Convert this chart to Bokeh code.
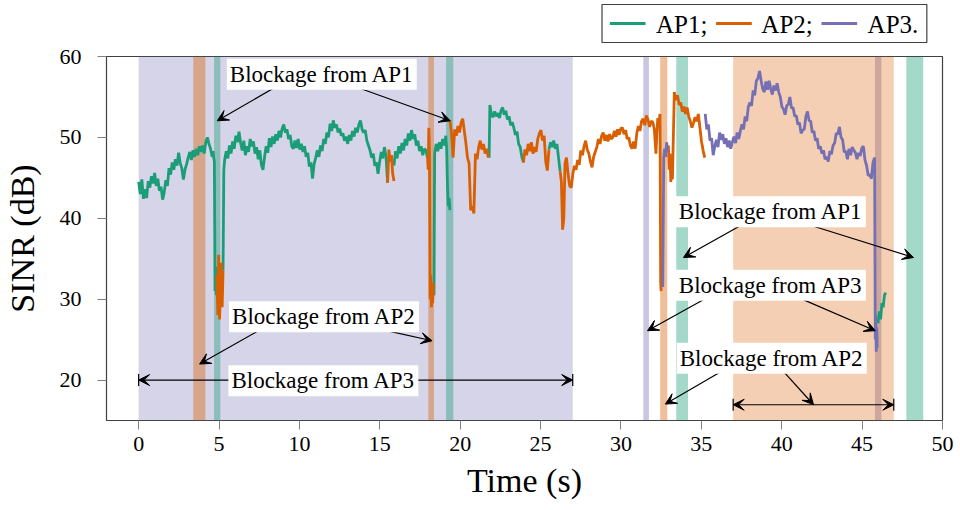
import numpy as np
from bokeh.plotting import figure
from bokeh.layouts import column
from bokeh.models import (BoxAnnotation, Label, Arrow, VeeHead, Range1d, FixedTicker)
from bokeh.core.properties import value
from bokeh.embed import file_html
from bokeh.resources import INLINE

FONT = "Liberation Serif"
C_AP1, C_AP2, C_AP3 = "#1b9e77", "#d95f02", "#7570b3"

# ---------------- data ----------------
# blockage intervals (s) for every access point
block_ap1 = [(4.69, 5.08), (19.12, 19.57), (33.44, 34.17), (47.75, 48.80)]
block_ap2 = [(3.40, 4.15), (18.02, 18.37), (32.44, 32.88), (36.98, 46.97)]
block_ap3 = [(0.00, 27.00), (31.39, 31.74), (45.80, 46.20)]

# SINR (dB) while each AP serves: runs of pieces (t_start, sample step, values)
ap1_runs = [
    [(0.0, 0.0994, [44.5, 43.0, 44.8, 42.4, 43.6, 42.5, 44.6, 43.8, 45.2, 44.3,
                    45.6, 44.0, 44.9, 43.4, 43.9, 42.3, 43.2, 44.7, 44.0, 46.2,
                    45.4, 46.9, 46.0, 47.3, 46.5, 48.1, 46.8, 46.2, 44.8, 46.0,
                    46.7, 47.5, 48.2, 47.2, 48.4, 47.6, 48.6, 47.8, 48.9, 48.2,
                    49.0, 48.0, 49.4, 50.0, 49.2, 48.6, 47.6]),
     (4.63, 0.04, [48.3, 47.5, 47.0, 31.0, 34.0, 30.5, 33.0])],
    [(5.248, 0.05, [33.5, 46.0]),
     (5.348, 0.0994, [47.2, 48.3, 47.4, 49.0, 48.0, 49.5, 48.6, 50.2, 49.4, 50.7,
                      49.3, 48.4, 49.6, 47.8, 48.9, 48.2, 49.8, 48.9, 49.5, 48.0,
                      48.8, 47.3, 48.4, 46.6, 46.0, 47.6, 48.9, 48.1, 49.9, 48.8,
                      50.1, 49.2, 50.4, 49.6, 50.8, 50.0, 51.1, 51.6, 50.6, 51.0,
                      49.8, 50.3, 48.9, 48.6, 49.6, 48.7, 49.8, 48.5, 49.2, 48.2,
                      48.9, 47.6, 48.1, 46.4, 46.9, 44.9, 46.7, 47.5, 48.4, 47.6,
                      49.0, 48.3, 49.8, 49.2, 50.6, 50.0, 51.7, 50.8, 52.1, 51.2,
                      51.6, 50.6, 51.1, 50.2, 50.5, 49.6, 50.1, 49.2, 50.3, 49.6,
                      50.8, 50.1, 51.2, 50.6, 51.6, 52.1, 51.0, 50.6, 50.9, 49.6,
                      49.0, 48.4, 47.5, 48.0, 46.5, 46.9, 45.5, 47.0, 48.2, 47.4,
                      48.8, 47.6, 44.4])],
    [(15.88, 0.0994, [46.5, 48.3, 47.4, 48.9, 48.0, 49.3, 48.4, 49.8, 49.0, 50.5,
                      49.6, 50.9, 49.8, 50.4, 49.0, 49.6, 48.3, 48.9, 47.8, 48.6,
                      48.4, 47.5])],
    [(18.33, 0.04, [32.0, 30.5]),
     (18.41, 0.0994, [48.0, 49.2, 48.3, 49.4, 48.6, 49.8, 49.0, 50.2]),
     (19.16, 0.05, [48.5, 44.0, 41.5, 42.5, 41.0])],
    [(21.80, 0.045, [47.5]),
     (21.845, 0.0994, [54.0, 52.8, 52.5, 53.2, 52.6, 53.0, 52.4, 53.3, 53.7, 52.8,
                       53.3, 52.2, 52.6, 51.5, 51.9, 51.2, 50.3, 50.7, 49.2, 48.8,
                       47.6, 46.9])],
    [(25.52, 0.0994, [48.5, 49.4, 48.8, 49.6, 48.6, 49.2, 47.5, 45.8])],
    [(45.99, 0.08, [27.0, 28.5, 27.5, 29.5, 29.0, 30.5, 30.8])],
]

ap2_runs = [
    [(4.87, 0.054, [33.0, 28.0, 35.5, 27.5, 31.0, 34.5, 29.0, 33.5])],
    [(15.487, 0.079, [44.4, 48.5, 47.0, 47.8, 45.5, 44.6])],
    [(17.97, 0.04, [47.5, 46.0, 51.2, 48.0, 30.0, 33.0, 29.0, 31.0, 29.5, 32.0])],
    [(19.36, 0.0994, [52.1, 50.5, 47.5, 51.0, 50.2, 51.4, 50.6, 51.8, 52.3, 50.8,
                      49.3, 47.5, 46.8, 41.0, 41.5, 40.6, 48.0, 47.3, 48.8, 49.6,
                      48.5, 49.2, 48.0, 48.6, 47.5])],
    [(23.93, 0.0994, [46.9, 48.5, 47.8, 49.2, 48.3, 49.4, 48.0, 48.8, 48.2, 49.8,
                      50.5, 50.9, 49.6, 50.2, 47.0, 45.9, 48.5])],
    [(26.22, 0.075, [45.8, 44.5, 38.6, 40.0, 46.8]),
     (26.61, 0.0994, [47.5, 45.5, 44.0, 43.8, 45.5, 46.5, 46.0, 47.2, 46.6, 48.4,
                      47.8, 48.9, 49.6, 48.5, 48.0, 47.0, 46.3, 47.6, 48.2, 48.8,
                      49.8, 49.2, 50.2, 50.6, 49.6, 50.3, 49.5, 50.4, 49.8, 50.0,
                      50.8, 50.1, 51.0, 50.3, 51.1, 51.2, 50.4, 50.9, 49.8, 50.0,
                      49.0, 48.6, 49.5, 48.6, 50.5, 51.4, 50.8, 52.0, 52.3, 51.5,
                      52.7, 52.2, 51.3, 52.0, 51.9, 51.0, 48.0]),
     (32.22, 0.07, [50.0, 52.4, 51.6, 52.9]),
     (32.47, 0.03, [32.0, 31.0])],
    [(32.9, 0.05, [48.2, 49.0, 46.0, 48.0, 44.5, 46.5, 44.8]),
     (33.32, 0.0994, [55.6, 54.6, 55.2, 54.0, 54.3, 53.2, 53.8, 52.9, 53.7, 52.6,
                      52.0, 51.2, 51.8, 52.5, 52.0, 52.9, 51.2, 49.5, 48.4, 47.5])],
]

ap3_runs = [
    [(32.6, 0.06, [31.5, 47.5, 48.6, 47.6, 49.4, 48.2])],
    [(35.24, 0.0994, [52.9, 51.0, 51.6, 49.6, 49.9, 47.8, 48.9, 49.7, 48.8, 50.6,
                      49.7, 50.4, 49.2, 49.9, 48.8, 49.6, 48.6, 49.4, 50.1, 49.3,
                      50.6, 49.8, 50.8, 51.6, 51.0, 52.6, 52.0, 53.8, 54.3, 53.9,
                      55.8, 55.2, 57.0, 57.3, 58.2, 57.0, 56.0, 55.6, 56.9, 55.9,
                      57.0, 56.0, 55.3, 56.4, 55.8, 56.7, 55.6, 55.0, 53.8, 53.5,
                      52.8, 53.9, 54.1, 55.0, 53.6, 53.7, 52.6, 52.7, 51.6, 51.8,
                      50.5, 50.9, 51.0, 52.6, 53.2, 52.1, 52.0, 50.6, 50.8, 49.6,
                      49.9, 48.6, 48.9, 48.0, 48.4, 47.3, 47.6, 47.0, 48.3, 47.9,
                      49.0, 49.3, 50.5, 50.4, 51.3, 50.0, 49.7, 48.2, 48.3, 47.3,
                      48.6, 47.8, 48.8, 48.4, 48.1, 47.3, 48.1, 47.7, 48.7, 48.9,
                      47.2, 46.5, 45.3, 45.4, 44.9, 46.9, 47.5]),
     (45.82, 0.03, [25.0, 28.0, 23.5, 26.5, 24.0])],
]

x_ticks = [0, 5, 10, 15, 20, 25, 30, 35, 40, 45, 50]
y_ticks = [20, 30, 40, 50, 60]
legend_labels = ["AP1;", "AP2;", "AP3."]

# annotations: text boxes (centre) and arrows (start -> end)
ann_text = ["Blockage from AP1", "Blockage from AP2", "Blockage from AP3",
            "Blockage from AP1", "Blockage from AP3", "Blockage from AP2"]
ann_x = [11.39, 11.53, 11.49, 39.32, 39.32, 39.38]
ann_y = [57.80, 27.83, 19.91, 40.80, 31.72, 22.70]
arrows = [(8.44, 56.13, 4.89, 52.05), (13.66, 56.13, 19.38, 52.05),
          (7.36, 26.00, 3.79, 21.98), (15.49, 26.09, 18.25, 24.86),
          (37.42, 39.07, 33.89, 35.15), (41.88, 39.07, 48.20, 35.15),
          (35.18, 30.00, 31.65, 26.10), (41.26, 30.00, 45.82, 26.10),
          (36.32, 21.15, 32.76, 17.03), (40.16, 20.94, 41.98, 16.95)]
span_arrows = [(block_ap3[0][0], block_ap3[0][1], 20.0),
               (block_ap2[3][0], block_ap2[3][1], 16.95)]


def build(runs):
    xs, ys = [], []
    for run in runs:
        for t0, dt, vals in run:
            xs.extend(list(t0 + dt * np.arange(len(vals))))
            ys.extend(vals)
        xs.append(np.nan)
        ys.append(np.nan)
    return xs, ys


# ---------------- legend strip (pixel coordinates) ----------------
LEG_H = 43
lf = figure(width=960, height=LEG_H, output_backend="svg", toolbar_location=None,
            x_range=Range1d(0, 960), y_range=Range1d(LEG_H, 0),
            x_axis_type=None, y_axis_type=None, min_border=0)
lf.outline_line_color = None
lf.xgrid.grid_line_color = None
lf.ygrid.grid_line_color = None
lf.background_fill_color = "white"
lf.border_fill_color = "white"
lf.quad(left=[569], right=[942], top=[4], bottom=[42], fill_color="white",
        line_color="#404040", line_width=1.2)
leg_line_x0 = [578, 700, 821]
leg_text_x = [631, 752, 874]
for x0, tx, col, lab in zip(leg_line_x0, leg_text_x, (C_AP1, C_AP2, C_AP3), legend_labels):
    lf.segment(x0=[x0], y0=[23], x1=[x0 + 41], y1=[23], line_color=col, line_width=3)
    lf.text(x=[tx], y=[24], text=[lab], text_font=value(FONT), text_font_size="25px",
            text_color="black", text_baseline="middle", text_align="left")

# ---------------- main plot ----------------
p = figure(width=960, height=510 - LEG_H, output_backend="svg", toolbar_location=None,
           x_range=Range1d(-2.0, 50.0), y_range=Range1d(15.0, 60.0),
           min_border_left=106, min_border_right=18, min_border_top=13,
           min_border_bottom=90)
p.background_fill_color = "white"
p.border_fill_color = "white"
p.outline_line_color = "#404040"
p.outline_line_width = 1.2
p.xgrid.grid_line_color = None
p.ygrid.grid_line_color = None

# shaded blockage intervals
for blocks, col in [(block_ap3, C_AP3), (block_ap2, C_AP2), (block_ap1, C_AP1)]:
    for a, b in blocks:
        alpha = 0.3 if (b - a) > 5 else 0.4
        p.add_layout(BoxAnnotation(left=a, right=b, fill_color=col, fill_alpha=alpha,
                                   line_color=None, level="underlay"))

for runs, col in [(ap1_runs, C_AP1), (ap2_runs, C_AP2), (ap3_runs, C_AP3)]:
    xs, ys = build(runs)
    p.line(xs, ys, line_color=col, line_width=2.8)

# arrows
for x0, y0, x1, y1 in arrows:
    p.add_layout(Arrow(x_start=x0, y_start=y0, x_end=x1, y_end=y1, line_width=1.2,
                       line_color="black",
                       end=VeeHead(size=11, fill_color="black", line_color="black")))
for a, b, yy in span_arrows:
    p.add_layout(Arrow(x_start=a, y_start=yy, x_end=b, y_end=yy, line_width=1.2,
                       line_color="black",
                       start=VeeHead(size=11, fill_color="black", line_color="black"),
                       end=VeeHead(size=11, fill_color="black", line_color="black")))
    p.segment(x0=[a, b], y0=[yy - 0.75, yy - 0.75], x1=[a, b], y1=[yy + 0.75, yy + 0.75],
              line_color="black", line_width=1.2)

for t, x, y in zip(ann_text, ann_x, ann_y):
    p.add_layout(Label(x=x, y=y, text=t, text_font=FONT, text_font_size="23px",
                       text_color="black", text_align="center", text_baseline="middle",
                       background_fill_color="white", background_fill_alpha=1.0,
                       padding=3))

for ax in (p.xaxis[0], p.yaxis[0]):
    ax.axis_line_color = None
    ax.major_tick_out = 9
    ax.major_tick_in = 0
    ax.minor_tick_out = 0
    ax.minor_tick_in = 0
    ax.major_tick_line_color = "#808080"
    ax.major_label_text_font = FONT
    ax.major_label_text_font_size = "22px"
    ax.major_label_text_color = "black"
    ax.axis_label_text_font = FONT
    ax.axis_label_text_font_size = "34px"
    ax.axis_label_text_font_style = "normal"
    ax.axis_label_text_color = "black"

p.xaxis.ticker = FixedTicker(ticks=x_ticks)
p.yaxis.ticker = FixedTicker(ticks=y_ticks)
p.xaxis.axis_label = "Time (s)"
p.yaxis.axis_label = "SINR (dB)"
p.xaxis.major_label_standoff = 7
p.yaxis.major_label_standoff = 16
p.xaxis.axis_label_standoff = 8
p.yaxis.axis_label_standoff = 16

layout = column(lf, p, spacing=0)
open("out.html", "w").write(file_html(layout, INLINE))
